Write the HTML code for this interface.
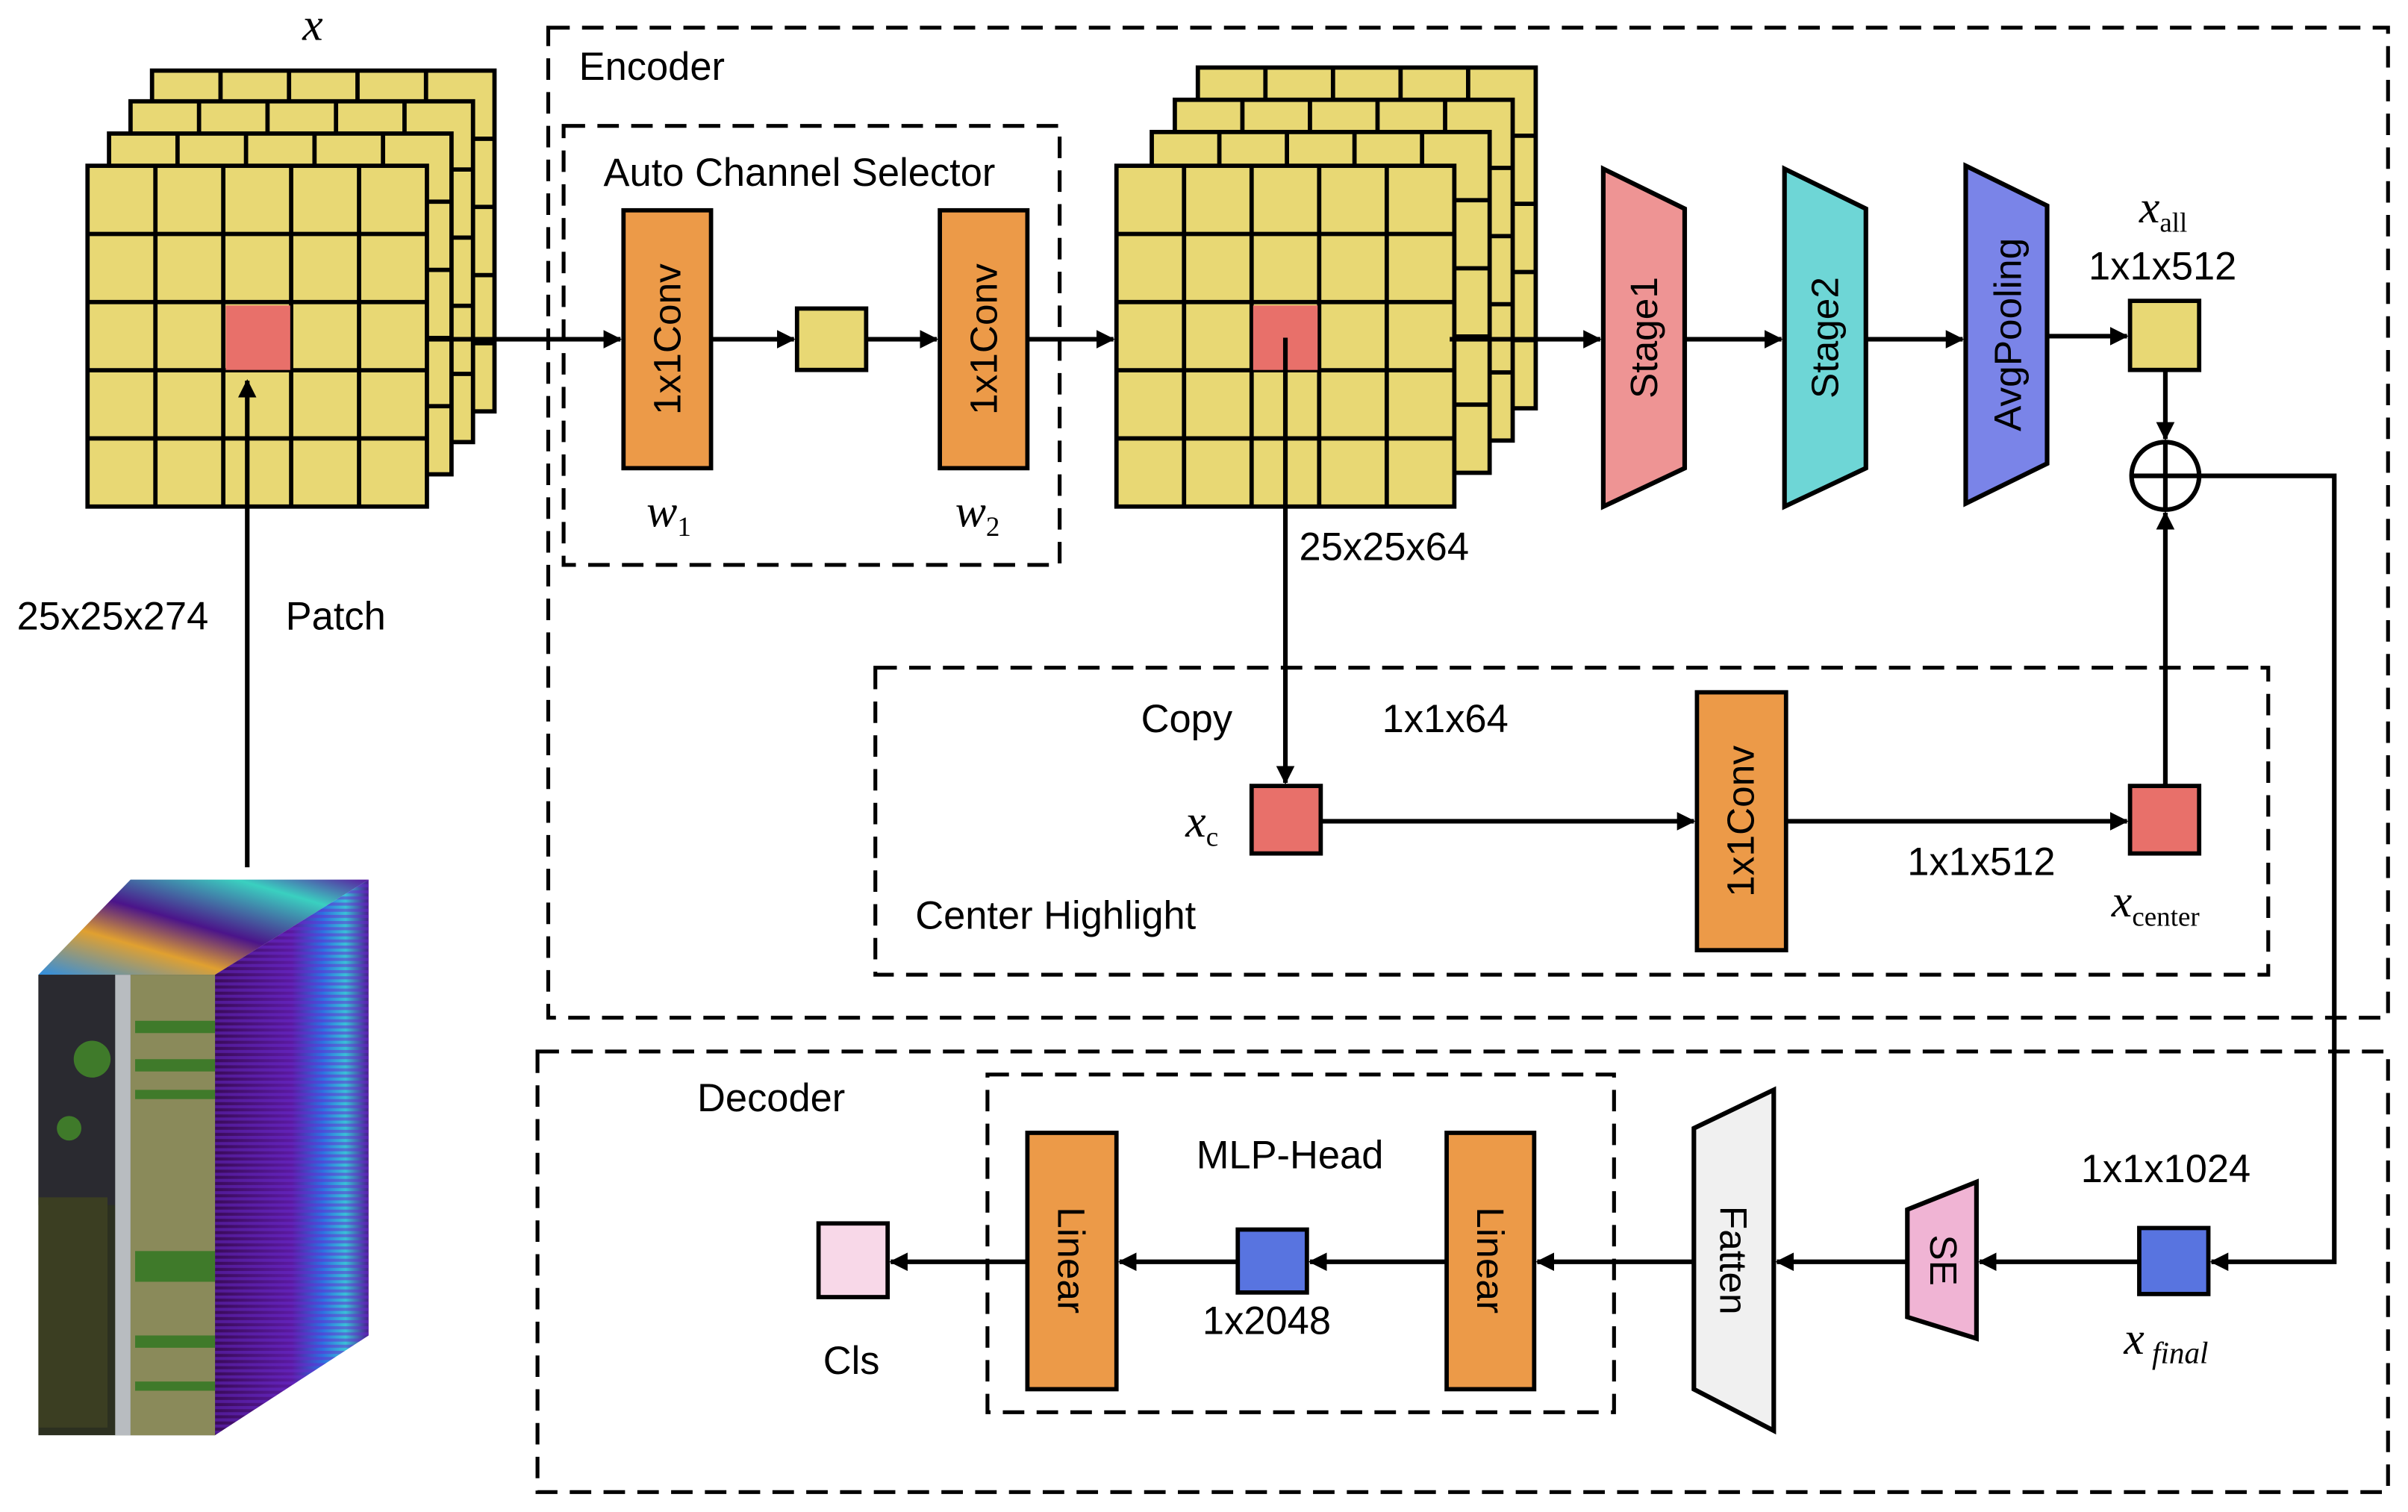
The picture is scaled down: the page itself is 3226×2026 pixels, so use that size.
<!DOCTYPE html>
<html><head><meta charset="utf-8"><style>
html,body{margin:0;padding:0;background:#fff;}
svg{display:block;}
text{font-family:"Liberation Sans",sans-serif;fill:#000;}
.it{font-family:"Liberation Serif",serif;font-style:italic;}
</style></head><body>
<svg width="3226" height="2026" viewBox="0 0 1568 985" preserveAspectRatio="none" xmlns="http://www.w3.org/2000/svg">
<defs>
<marker id="ar" markerWidth="12" markerHeight="12" refX="11" refY="6" orient="auto" markerUnits="userSpaceOnUse">
<path d="M0,0 L12,6 L0,12 z" fill="#000"/></marker>
<linearGradient id="side" x1="0" y1="0" x2="1" y2="0">
<stop offset="0" stop-color="#3a0b5a"/><stop offset="0.5" stop-color="#5a1aa0"/><stop offset="0.7" stop-color="#2d6fe0"/><stop offset="0.85" stop-color="#39c0d8"/><stop offset="1" stop-color="#4a1a90"/></linearGradient>
<linearGradient id="top" x1="0" y1="1" x2="1" y2="0">
<stop offset="0" stop-color="#2f8ee0"/><stop offset="0.3" stop-color="#e0a030"/><stop offset="0.5" stop-color="#4b148a"/><stop offset="0.8" stop-color="#3ad0c0"/><stop offset="1" stop-color="#5a1aa0"/></linearGradient>
<pattern id="stripes" width="20" height="4" patternUnits="userSpaceOnUse"><rect width="20" height="2" fill="#6a2ad0" opacity="0.5"/></pattern>
</defs>

<g fill="none" stroke="#000" stroke-width="2.5" stroke-dasharray="14,8">
<rect x="357" y="18" width="1198" height="645"/>
<rect x="367" y="82" width="323" height="286"/>
<rect x="570" y="435" width="907" height="200"/>
<rect x="350" y="685" width="1205" height="287"/>
<rect x="643" y="700" width="408" height="220"/>
</g>

<g stroke="#000" stroke-width="2.8" fill="#e8d874">
<rect x="99" y="46" width="223" height="222"/>
<path d="M143.6,46V268M188.2,46V268M232.8,46V268M277.4,46V268M99,90.4H322M99,134.8H322M99,179.2H322M99,223.6H322" fill="none"/>
<rect x="85" y="66" width="223" height="222"/>
<path d="M129.6,66V288M174.2,66V288M218.8,66V288M263.4,66V288M85,110.4H308M85,154.8H308M85,199.2H308M85,243.6H308" fill="none"/>
<rect x="71" y="87" width="223" height="222"/>
<path d="M115.6,87V309M160.2,87V309M204.8,87V309M249.4,87V309M71,131.4H294M71,175.8H294M71,220.2H294M71,264.6H294" fill="none"/>
<rect x="57" y="108" width="221" height="222"/>
<path d="M101.2,108V330M145.4,108V330M189.6,108V330M233.8,108V330M57,152.4H278M57,196.8H278M57,241.2H278M57,285.6H278" fill="none"/>
<rect x="147" y="199" width="42" height="42" fill="#e8706a" stroke="none"/>

<rect x="780" y="44" width="220" height="222"/>
<path d="M824,44V266M868,44V266M912,44V266M956,44V266M780,88.4H1000M780,132.8H1000M780,177.2H1000M780,221.6H1000" fill="none"/>
<rect x="765" y="65" width="220" height="222"/>
<path d="M809,65V287M853,65V287M897,65V287M941,65V287M765,109.4H985M765,153.8H985M765,198.2H985M765,242.6H985" fill="none"/>
<rect x="750" y="86" width="220" height="222"/>
<path d="M794,86V308M838,86V308M882,86V308M926,86V308M750,130.4H970M750,174.8H970M750,219.2H970M750,263.6H970" fill="none"/>
<rect x="727" y="108" width="220" height="222"/>
<path d="M771,108V330M815,108V330M859,108V330M903,108V330M727,152.4H947M727,196.8H947M727,241.2H947M727,285.6H947" fill="none"/>
<rect x="816" y="199" width="42" height="42" fill="#e8706a" stroke="none"/>
</g>

<g>
<polygon points="25,635 85,573 240,573 140,635" fill="url(#top)"/>
<polygon points="140,635 240,573 240,870 140,935" fill="url(#side)"/>
<polygon points="140,635 240,573 240,870 140,935" fill="url(#stripes)"/>
<rect x="25" y="635" width="115" height="300" fill="#2c3020"/>
<rect x="25" y="635" width="60" height="150" fill="#2a2a30"/>
<rect x="25" y="780" width="45" height="150" fill="#3b3e22"/>
<rect x="85" y="635" width="55" height="300" fill="#8a8a5a"/>
<rect x="75" y="635" width="10" height="300" fill="#b8bcc0"/>
<g fill="#3f7a2a"><rect x="88" y="665" width="52" height="8"/><rect x="88" y="690" width="52" height="8"/><rect x="88" y="710" width="52" height="6"/><rect x="88" y="815" width="52" height="20"/><rect x="88" y="870" width="52" height="8"/><rect x="88" y="900" width="52" height="6"/>
<circle cx="60" cy="690" r="12"/><circle cx="45" cy="735" r="8"/></g>
</g>

<g fill="#ec9a48" stroke="#000" stroke-width="2.8">
<rect x="406" y="137" width="57" height="168"/>
<rect x="612" y="137" width="57" height="168"/>
<rect x="1105" y="451" width="58" height="168"/>
<rect x="669" y="738" width="58" height="167"/>
<rect x="942" y="738" width="57" height="167"/>
</g>
<g fill="#e8d874" stroke="#000" stroke-width="2.8">
<rect x="519" y="201" width="45" height="40"/>
<rect x="1387" y="196" width="45" height="45"/>
</g>
<g fill="#e8706a" stroke="#000" stroke-width="2.8">
<rect x="815" y="512" width="45" height="44"/>
<rect x="1387" y="512" width="45" height="44"/>
</g>
<g fill="#5874e0" stroke="#000" stroke-width="2.8">
<rect x="1393" y="800" width="45" height="43"/>
<rect x="806" y="801" width="45" height="41"/>
</g>
<rect x="533" y="797" width="45" height="48" fill="#f8d8e8" stroke="#000" stroke-width="2.8"/>

<g stroke="#000" stroke-width="3">
<polygon points="1044,110 1097,136 1097,305 1044,330" fill="#ee9494"/>
<polygon points="1162,110 1215,136 1215,305 1162,330" fill="#6ed6d6"/>
<polygon points="1280,108 1333,134 1333,302 1280,328" fill="#7a84e8"/>
<polygon points="1103,735 1155,710 1155,932 1103,905" fill="#f0f0f0"/>
<polygon points="1242,788 1287,770 1287,872 1242,858" fill="#f0b4d4"/>
</g>

<circle cx="1410" cy="310" r="22" fill="#fff" stroke="#000" stroke-width="3"/>
<path d="M1388,310H1432M1410,288V332" stroke="#000" stroke-width="3"/>

<g stroke="#000" stroke-width="3" fill="none" marker-end="url(#ar)">
<path d="M278,221H404"/>
<path d="M463,221H517"/>
<path d="M564,221H610"/>
<path d="M669,221H725"/>
<path d="M944,221H1042"/>
<path d="M1097,221H1160"/>
<path d="M1215,221H1278"/>
<path d="M1333,219H1385"/>
<path d="M1410,241V286"/>
<path d="M1410,512V334"/>
<path d="M837,220V510"/>
<path d="M860,535H1103"/>
<path d="M1163,535H1385"/>
<path d="M161,565V248"/>
<path d="M1432,310H1520V822H1440"/>
<path d="M1393,822H1289"/>
<path d="M1242,822H1157"/>
<path d="M1103,822H1001"/>
<path d="M942,822H853"/>
<path d="M806,822H729"/>
<path d="M669,822H580"/>
</g>

<g font-size="25">
<text transform="translate(443,221) rotate(-90)" text-anchor="middle">1x1Conv</text>
<text transform="translate(649,221) rotate(-90)" text-anchor="middle">1x1Conv</text>
<text transform="translate(1142,535) rotate(-90)" text-anchor="middle">1x1Conv</text>
<text transform="translate(1079,220) rotate(-90)" text-anchor="middle">Stage1</text>
<text transform="translate(1197,220) rotate(-90)" text-anchor="middle">Stage2</text>
<text transform="translate(1316,218) rotate(-90)" text-anchor="middle">AvgPooling</text>
<text transform="translate(689,821) rotate(90)" text-anchor="middle">Linear</text>
<text transform="translate(962,821) rotate(90)" text-anchor="middle">Linear</text>
<text transform="translate(1120,821) rotate(90)" text-anchor="middle">Fatten</text>
<text transform="translate(1257,821) rotate(90)" text-anchor="middle">SE</text>
</g>

<g font-size="25.5">
<text x="377" y="52">Encoder</text>
<text x="393" y="121">Auto Channel Selector</text>
<text x="11" y="410">25x25x274</text>
<text x="186" y="410">Patch</text>
<text x="846" y="365">25x25x64</text>
<text x="1360" y="182">1x1x512</text>
<text x="743" y="477">Copy</text>
<text x="900" y="477">1x1x64</text>
<text x="1242" y="570">1x1x512</text>
<text x="596" y="605">Center Highlight</text>
<text x="454" y="724">Decoder</text>
<text x="779" y="761">MLP-Head</text>
<text x="1355" y="770">1x1x1024</text>
<text x="783" y="869">1x2048</text>
<text x="536" y="895">Cls</text>
</g>
<g font-size="30" class="it">
<text x="197" y="26" class="it">x</text>
<text x="421" y="343" class="it">w<tspan font-size="18" font-style="normal" dy="6">1</tspan></text>
<text x="622" y="343" class="it">w<tspan font-size="18" font-style="normal" dy="6">2</tspan></text>
<text x="1393" y="145" class="it">x<tspan font-size="18" font-style="normal" dy="6">all</tspan></text>
<text x="772" y="545" class="it">x<tspan font-size="18" font-style="normal" dy="6">c</tspan></text>
<text x="1375" y="597" class="it">x<tspan font-size="18" font-style="normal" dy="6">center</tspan></text>
<text x="1383" y="882" class="it">x<tspan font-size="20" dy="6"> final</tspan></text>
</g>
</svg>
</body></html>
